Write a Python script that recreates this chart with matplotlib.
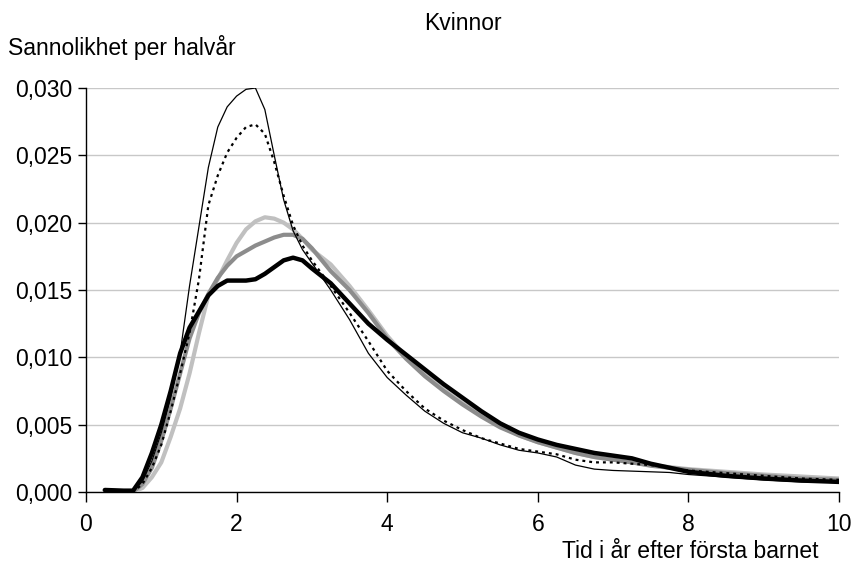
import matplotlib
matplotlib.use("Agg")
import matplotlib.pyplot as plt
from matplotlib.ticker import FuncFormatter

plt.rcParams['font.family'] = ['Liberation Sans', 'DejaVu Sans']

# Time in years after first child
t = [0.25, 0.5, 0.625, 0.75, 0.875, 1.0, 1.125, 1.25, 1.375, 1.5, 1.625, 1.75, 1.875,
     2.0, 2.125, 2.25, 2.375, 2.5, 2.625, 2.75, 2.875, 3.0, 3.25, 3.5, 3.75, 4.0,
     4.25, 4.5, 4.75, 5.0, 5.25, 5.5, 5.75, 6.0, 6.25, 6.5, 6.75, 7.0, 7.25, 7.5,
     7.75, 8.0, 8.5, 9.0, 9.5, 10.0]

# Probability per half-year (x 0.001)
thin_black = [0.15, 0.1, 0.05, 0.8, 2.3, 4.4, 7.0, 10.3, 15.3, 19.7, 24.1, 27.1, 28.6,
              29.4, 29.9, 30.0, 28.4, 25.0, 21.7, 19.4, 18.0, 17.0, 15.0, 12.8, 10.3, 8.5,
              7.2, 6.0, 5.1, 4.4, 4.0, 3.5, 3.1, 2.9, 2.6, 2.0, 1.7, 1.6, 1.55, 1.5,
              1.45, 1.3, 1.1, 0.9, 0.75, 0.7]
dotted = [0.1, 0.05, 0.0, 0.6, 1.8, 3.5, 6.0, 8.8, 11.8, 15.8, 21.3, 23.5, 25.2,
          26.3, 27.1, 27.3, 26.6, 24.5, 22.0, 19.8, 18.3, 17.2, 15.3, 13.3, 11.2, 9.0,
          7.5, 6.2, 5.3, 4.6, 4.0, 3.6, 3.2, 3.0, 2.8, 2.4, 2.2, 2.2, 2.1, 2.0,
          1.8, 1.6, 1.4, 1.2, 1.0, 0.9]
light_gray = [0.05, 0.0, 0.0, 0.3, 1.1, 2.2, 4.1, 6.2, 8.8, 11.8, 14.6, 15.8, 17.2,
              18.5, 19.5, 20.1, 20.4, 20.3, 20.0, 19.5, 18.8, 18.0, 16.9, 15.3, 13.5, 11.6,
              10.0, 8.7, 7.6, 6.6, 5.7, 4.9, 4.2, 3.7, 3.3, 2.9, 2.6, 2.4, 2.2, 2.0,
              1.85, 1.7, 1.5, 1.3, 1.15, 1.0]
mid_gray = [0.1, 0.05, 0.0, 0.6, 1.8, 3.8, 6.2, 8.8, 11.4, 13.3, 14.7, 15.9, 16.8,
            17.5, 17.9, 18.3, 18.6, 18.9, 19.1, 19.1, 18.8, 18.1, 16.4, 15.0, 13.3, 11.4,
            9.9, 8.6, 7.5, 6.5, 5.6, 4.8, 4.2, 3.7, 3.3, 2.9, 2.6, 2.4, 2.2, 1.95,
            1.8, 1.65, 1.4, 1.2, 1.0, 0.9]
thick_black = [0.15, 0.1, 0.1, 1.1, 2.9, 5.0, 7.5, 10.3, 12.2, 13.4, 14.6, 15.3, 15.7,
               15.7, 15.7, 15.8, 16.2, 16.7, 17.2, 17.4, 17.2, 16.6, 15.5, 14.0, 12.5, 11.3,
               10.2, 9.1, 8.0, 7.0, 6.0, 5.1, 4.4, 3.9, 3.5, 3.2, 2.9, 2.7, 2.5, 2.1,
               1.8, 1.5, 1.2, 1.0, 0.85, 0.75]

x_ticks = [0, 2, 4, 6, 8, 10]
y_ticks = [0.0, 0.005, 0.010, 0.015, 0.020, 0.025, 0.030]

title = "Kvinnor"
ylabel = "Sannolikhet per halvår"
xlabel = "Tid i år efter första barnet"

def scale(v):
    return [a * 0.001 for a in v]

fig = plt.figure(figsize=(8.6, 5.66), dpi=100)
ax = fig.add_axes([86 / 860, 1 - 492 / 566, (839 - 86) / 860, (492 - 88) / 566])

ax.plot(t, scale(light_gray), color='#c0c0c0', lw=3.0, solid_joinstyle='round', solid_capstyle='round', zorder=3)
ax.plot(t, scale(mid_gray), color='#8c8c8c', lw=3.0, solid_joinstyle='round', solid_capstyle='round', zorder=3)
ax.plot(t, scale(thick_black), color='black', lw=3.2, solid_joinstyle='round', solid_capstyle='round', zorder=4)
ax.plot(t, scale(thin_black), color='black', lw=0.9, zorder=5)
ax.plot(t, scale(dotted), color='black', lw=1.6, linestyle=(0, (1.3, 1.8)), zorder=5)

ax.set_xlim(0, 10)
ax.set_ylim(0, 0.030)
ax.set_xticks(x_ticks)
ax.set_yticks(y_ticks)
ax.xaxis.set_major_formatter(FuncFormatter(lambda v, p: f"{v:g}"))
ax.yaxis.set_major_formatter(FuncFormatter(lambda v, p: f"{v:.3f}".replace('.', ',')))
ax.tick_params(axis='both', labelsize=16.5, direction='out', width=1, color='black')
ax.tick_params(axis='x', length=7, pad=8)
ax.tick_params(axis='y', length=6, pad=4)
ax.grid(axis='y', color='#c8c8c8', lw=1.0, zorder=0)
ax.set_axisbelow(True)
for s in ['top', 'right']:
    ax.spines[s].set_visible(False)
for s in ['left', 'bottom']:
    ax.spines[s].set_linewidth(1.0)
    ax.spines[s].set_color('black')

fig.text(462.5 / 860, 1 - 23 / 566, title, ha='center', va='center', fontsize=16.5)
fig.text(8 / 860, 1 - 47 / 566, ylabel, ha='left', va='center', fontsize=16.5)
fig.text(818 / 860, 1 - 551 / 566, xlabel, ha='right', va='center', fontsize=16.5)

fig.savefig("out.png", dpi=100)
